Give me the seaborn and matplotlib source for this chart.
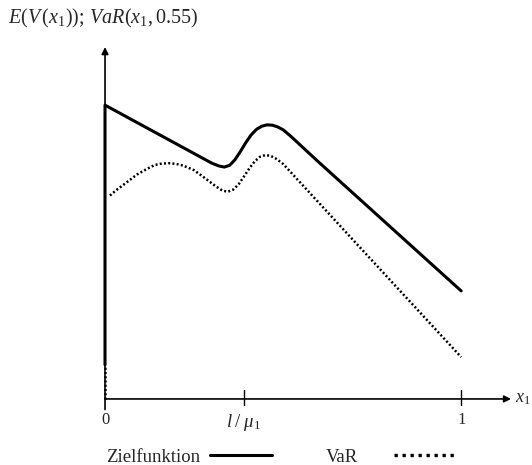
import matplotlib
matplotlib.use("Agg")
import matplotlib.pyplot as plt
from matplotlib.lines import Line2D
import numpy as np
import pandas as pd
import seaborn as sns

# Objective function E(V(x1)) over the share x1
ziel_x = [0.0, 0.0, 0.10, 0.20, 0.30, 0.32, 0.335, 0.35, 0.365, 0.38, 0.395, 0.41, 0.425,
          0.44, 0.455, 0.47, 0.485, 0.50, 0.52, 0.60, 0.80, 1.00]
ziel_y = [0.097, 0.835, 0.780, 0.725, 0.670, 0.662, 0.659, 0.664, 0.680, 0.703, 0.728, 0.750, 0.766,
          0.775, 0.779, 0.778, 0.773, 0.765, 0.748, 0.673, 0.490, 0.307]

# Value at Risk VaR(x1, 0.55): short piece on the axis, then the curve
var_seg = [0, 0] + [1] * 27
var_x = [0.0, 0.0,
         0.014, 0.03, 0.06, 0.09, 0.12, 0.14, 0.16, 0.18, 0.20, 0.22, 0.25, 0.28, 0.31, 0.33,
         0.345, 0.36, 0.375, 0.39, 0.405, 0.42, 0.435, 0.45, 0.465, 0.48, 0.50, 0.70, 1.00]
var_y = [0.0, 0.097,
         0.578, 0.592, 0.615, 0.638, 0.655, 0.665, 0.669, 0.670, 0.668, 0.663, 0.650, 0.628, 0.605, 0.592,
         0.589, 0.595, 0.610, 0.632, 0.655, 0.675, 0.688, 0.693, 0.691, 0.683, 0.668, 0.448, 0.119]

tick_pos = [0.0, 0.39, 1.0]
tick_labels = ["0", r"$l\;/\;\mu_1$", "1"]

sns.set_style("white")
plt.rcParams["font.family"] = ["Liberation Serif", "DejaVu Serif"]
plt.rcParams["mathtext.fontset"] = "custom"
plt.rcParams["mathtext.rm"] = "Liberation Serif"
plt.rcParams["mathtext.it"] = "Liberation Serif:italic"

W, H = 532, 465
fig = plt.figure(figsize=(W / 100, H / 100), dpi=100)
ax = fig.add_axes([0.184, 0.1269, 0.790, 0.787])
ax.set_xlim(-0.02, 1.16)
ax.set_ylim(-0.02, 1.02)
for s in ax.spines.values():
    s.set_visible(False)
ax.set_xticks([])
ax.set_yticks([])

df_z = pd.DataFrame({"x": ziel_x, "y": ziel_y})
df_v = pd.DataFrame({"x": var_x, "y": var_y, "seg": var_seg})
sns.lineplot(data=df_v, x="x", y="y", units="seg", sort=False, estimator=None, ax=ax,
             color="black", lw=1.8, linestyle=(0, (0.8, 0.9)), zorder=3)
sns.lineplot(data=df_z, x="x", y="y", sort=False, estimator=None, ax=ax, color="black",
             lw=2.2, zorder=4)
ax.set_xlabel("")
ax.set_ylabel("")

# Axes with arrow heads
arrow = dict(arrowstyle="-|>", lw=1.2, color="black", mutation_scale=10, shrinkA=0, shrinkB=0)
ax.annotate("", xy=(1.14, 0), xytext=(0, 0), arrowprops=arrow, zorder=5)
ax.annotate("", xy=(0, 1.0), xytext=(0, -0.03), arrowprops=arrow, zorder=5)
for t in tick_pos[1:]:
    ax.plot([t, t], [-0.025, 0.025], color="black", lw=1.0)

for t, lab in zip(tick_pos, tick_labels):
    ax.text(t, -0.036, lab, ha="center", va="top", fontsize=13.5 if "mu" in lab else 12)
ax.text(1.152, 0.0, r"$x_1$", ha="left", va="center", fontsize=13)
fig.text(8 / W, 1 - 18 / H, r"$E(V\,(x_1));\,VaR(x_1,0.55)$", ha="left", va="center", fontsize=14.5)

# Key below the plot: label first, line sample after it
h_z = Line2D([], [], color="black", lw=2.2)
h_v = Line2D([], [], color="black", lw=2.4, linestyle=(0, (1.0, 1.4)))
leg1 = fig.legend([h_z], ["Zielfunktion"], markerfirst=False, frameon=False, fontsize=13.5,
                  handlelength=3.3, handletextpad=0.55, loc="center left",
                  bbox_to_anchor=(106 / W, 1 - 457 / H), borderpad=0, borderaxespad=0)
leg2 = fig.legend([h_v], ["VaR"], markerfirst=False, frameon=False, fontsize=13.5,
                  handlelength=3.3, handletextpad=1.9, loc="center left",
                  bbox_to_anchor=(326 / W, 1 - 457 / H), borderpad=0, borderaxespad=0)

fig.savefig("out.png", dpi=100)
